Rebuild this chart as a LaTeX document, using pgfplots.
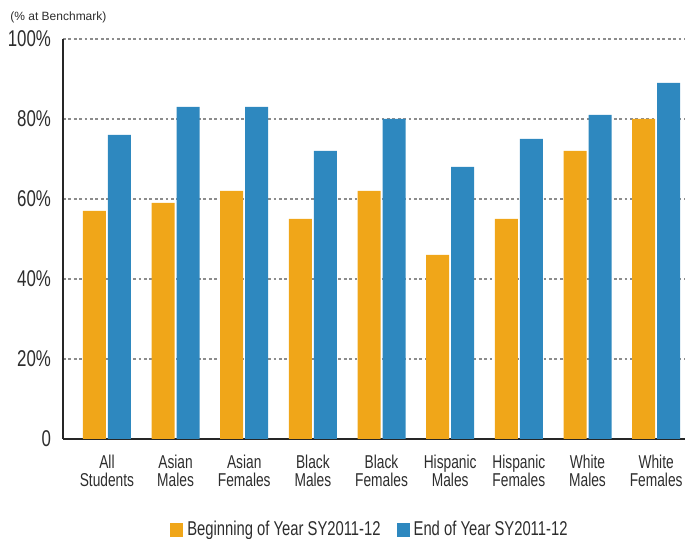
\documentclass[border=0pt]{standalone}
\usepackage{fontspec}
\setmainfont{Liberation Sans}[FakeStretch=0.74]
\newfontfamily\plainsans{Liberation Sans}
\usepackage{pgfplots}
\pgfplotsset{compat=1.18}
\definecolor{bgnorange}{RGB}{240,166,25}
\definecolor{endblue}{RGB}{46,136,191}
\definecolor{txt}{RGB}{45,45,45}
\begin{document}
\begin{tikzpicture}
  \begin{axis}[
      at={(0,0)}, anchor=south west,
      scale only axis, width=311pt, height=200pt,
      ybar=1pt, bar width=11.5pt,
      xmin=-0.64, xmax=8.42, ymin=0, ymax=100,
      axis x line*=bottom, axis y line*=left,
      axis line style={-, line width=1.4pt, color=black!85},
      xtick={0,...,8}, major tick length=0pt,
      xticklabels={All\\Students, Asian\\Males, Asian\\Females, Black\\Males, Black\\Females,
        Hispanic\\Males, Hispanic\\Females, White\\Males, White\\Females},
      xticklabel style={align=center, font=\fontsize{9.3}{9}\selectfont, text=txt, yshift=-4.5pt},
      ytick={0,20,40,60,80,100},
      yticklabels={0,20\%,40\%,60\%,80\%,100\%},
      yticklabel style={font=\fontsize{11.4}{12}\selectfont, text=txt, xshift=-2.5pt},
      /pgf/number format/assume math mode=true,
      ymajorgrids, grid style={dash pattern=on 1.4pt off 1.3pt, line width=0.6pt, color=black!45},
      legend columns=2,
      legend style={at={(0.495,-0.2275)}, anchor=center, draw=none, fill=none,
        font=\fontsize{10}{11}\selectfont, text=txt,
        /tikz/every even column/.append style={column sep=6pt}},
      legend image code/.code={\fill[#1] (0pt,-3.4pt) rectangle (6.5pt,3.4pt);},
    ]
    \addplot[fill=bgnorange, draw=none] coordinates {
      (0,57) (1,59) (2,62) (3,55) (4,62) (5,46) (6,55) (7,72) (8,80)};
    \addplot[fill=endblue, draw=none] coordinates {
      (0,76) (1,83) (2,83) (3,72) (4,80) (5,68) (6,75) (7,81) (8,89)};
    \legend{Beginning of Year SY2011-12, End of Year SY2011-12}
  \end{axis}
  \node[anchor=west, inner sep=0pt, font=\plainsans\fontsize{6}{7}\selectfont, text=txt] at (-26.5pt,211pt) {(\% at Benchmark)};
  \pgfresetboundingbox
  \path[use as bounding box] (-31.5pt,-50pt) rectangle (311pt,219.5pt);
\end{tikzpicture}
\end{document}
